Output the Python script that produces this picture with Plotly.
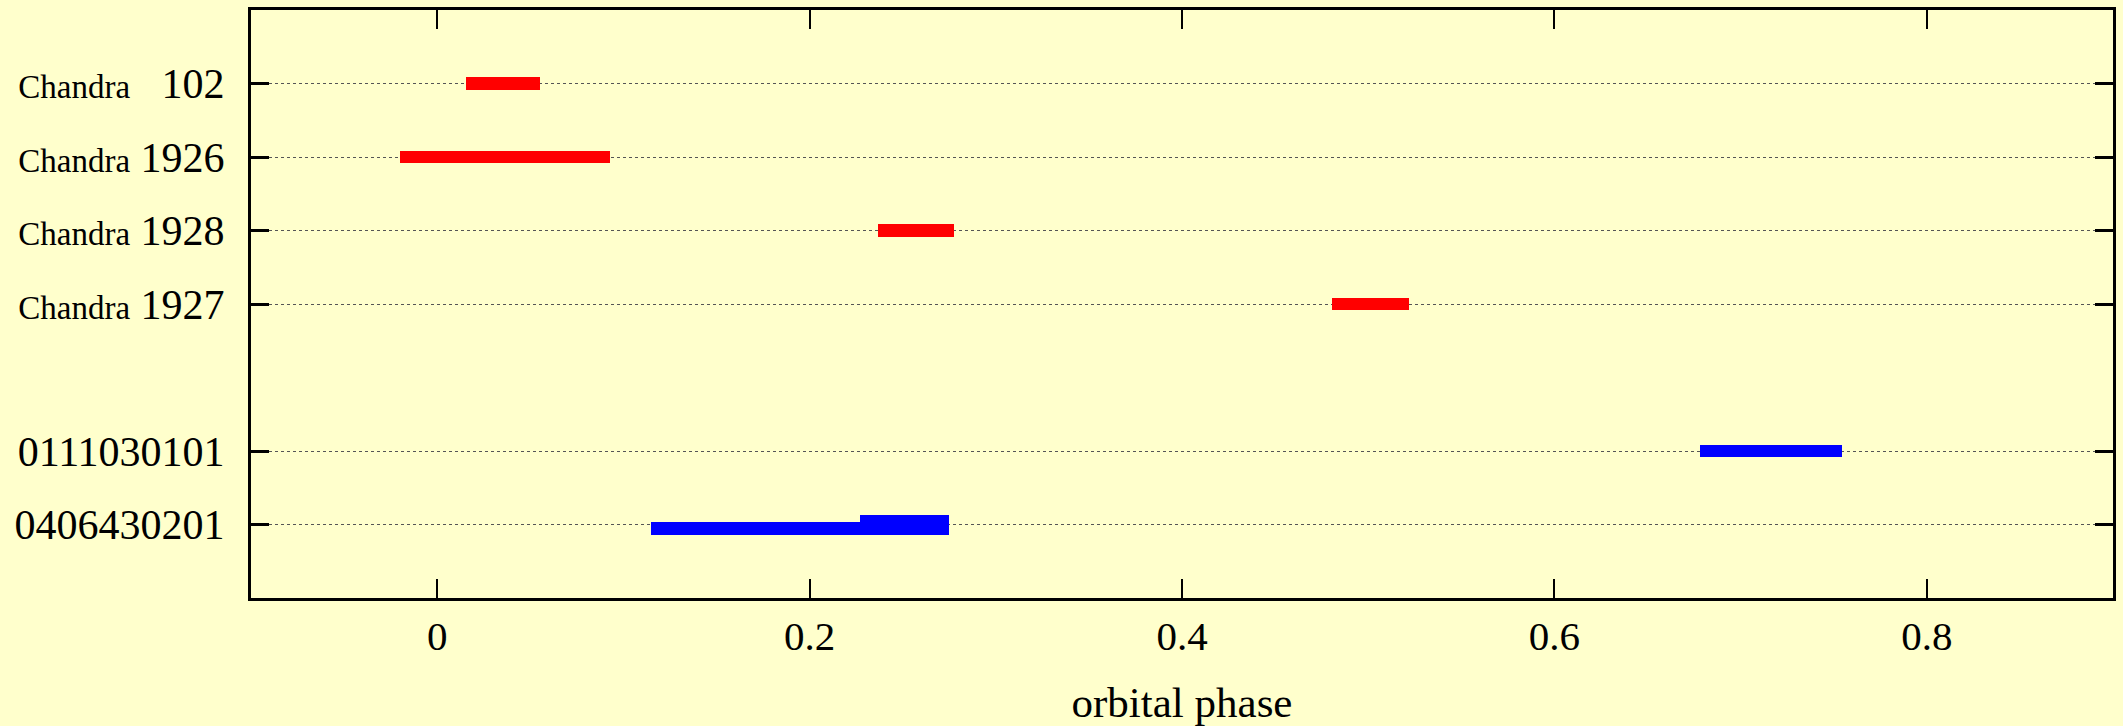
import plotly.graph_objects as go

# Observation labels (bottom to top) and their y positions
obs_labels = ["0406430201", "0111030101", "Chandra 1927", "Chandra 1928", "Chandra 1926", "Chandra   102"]
obs_ypos = [1, 2, 4, 5, 6, 7]

# Chandra observations (red): phase start / end
chandra_y = [7, 6, 5, 4]
chandra_start = [0.0152, -0.020, 0.237, 0.4807]
chandra_end = [0.0551, 0.093, 0.2777, 0.5217]

# XMM observations (blue): phase start / end
xmm_y = [2, 0.947, 0.996]
xmm_start = [0.678, 0.115, 0.227]
xmm_end = [0.7545, 0.275, 0.275]
xmm_thick = [0.172, 0.172, 0.272]

x_ticks = [0, 0.2, 0.4, 0.6, 0.8]
x_ticktext = ["0", "0.2", "0.4", "0.6", "0.8"]

def fmt(lbl):
    if lbl.startswith("Chandra"):
        num = lbl.split()[-1]
        pad = "&nbsp;&nbsp;" if len(num) == 3 else ""
        return "<span style='font-size:33px'>Chandra</span> " + pad + num
    return lbl

fig = go.Figure()
fig.add_trace(go.Bar(
    orientation="h", y=chandra_y,
    base=chandra_start,
    x=[e - s for s, e in zip(chandra_start, chandra_end)],
    width=0.172, marker=dict(color="#ff0000", line=dict(width=0)),
    showlegend=False,
))
fig.add_trace(go.Bar(
    orientation="h", y=xmm_y,
    base=xmm_start,
    x=[e - s for s, e in zip(xmm_start, xmm_end)],
    width=xmm_thick, marker=dict(color="#0000ff", line=dict(width=0)),
    showlegend=False,
))

bg = "#ffffcc"
fig.update_layout(
    width=2123, height=726,
    margin=dict(l=251, r=7, t=9, b=128),
    paper_bgcolor=bg, plot_bgcolor=bg,
    barmode="overlay", bargap=0,
    font=dict(family="Liberation Serif", size=40, color="black"),
    xaxis=dict(
        range=[-0.1, 0.9], tickvals=x_ticks, ticktext=x_ticktext,
        ticks="inside", ticklen=19, tickwidth=2, tickcolor="black",
        showline=True, linewidth=3, linecolor="black", mirror="ticks",
        showgrid=False, zeroline=False,
        tickfont=dict(size=41),
        title=dict(text="orbital phase", font=dict(size=43), standoff=30),
    ),
    yaxis=dict(
        range=[0, 8], tickvals=obs_ypos, ticktext=[fmt(l) for l in obs_labels],
        ticks="inside", ticklen=18, tickwidth=3, tickcolor="black",
        showline=True, linewidth=3, linecolor="black", mirror="ticks",
        showgrid=True, gridcolor="#555555", gridwidth=1, griddash="dot",
        zeroline=False, tickfont=dict(size=42),
        ticklabelstandoff=15,
    ),
)

fig.write_html("out.html")
